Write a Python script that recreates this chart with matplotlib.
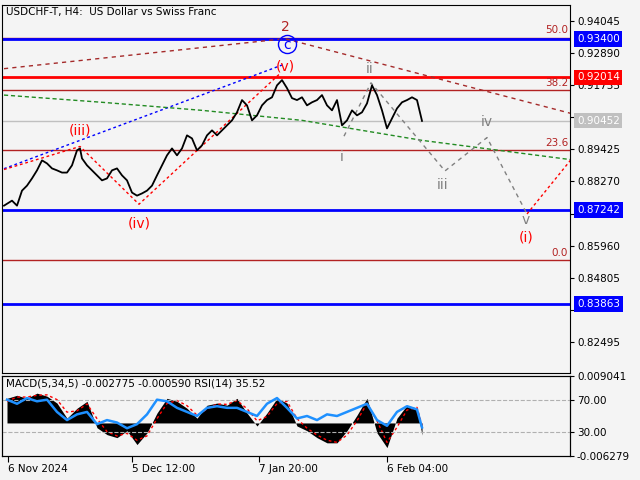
import matplotlib
matplotlib.use("Agg")
import matplotlib.pyplot as plt

BG = "#f4f4f4"
# price closes (x in bar-position units)
px = [2,10,15,20,25,30,35,40,45,50,55,60,65,70,75,78,80,85,90,95,100,105,110,115,120,125,130,135,140,145,150,155,160,165,170,175,180,185,190,195,200,205,210,215,220,225,230,235,240,245,250,255,260,265,270,275,280,285,290,295,300,305,310,315,320,325,330,335,340,345,350,355,360,365,370,375,380,385,390,395,400,405,410,415,420]
price = [0.8740,0.8758,0.8740,0.8794,0.8812,0.8838,0.8867,0.8903,0.8892,0.8874,0.8867,0.8859,0.8859,0.8885,0.8939,0.8946,0.8910,0.8885,0.8867,0.8849,0.8831,0.8838,0.8867,0.8874,0.8849,0.8831,0.8787,0.8776,0.8784,0.8794,0.8812,0.8849,0.8885,0.8921,0.8946,0.8921,0.8946,0.8993,0.8982,0.8939,0.8957,0.8993,0.9011,0.8993,0.9011,0.9029,0.9047,0.9076,0.9120,0.9101,0.9047,0.9065,0.9101,0.9120,0.9130,0.9173,0.9192,0.9163,0.9127,0.9120,0.9130,0.9101,0.9112,0.9120,0.9138,0.9101,0.9083,0.9120,0.9029,0.9047,0.9083,0.9065,0.9076,0.9108,0.9173,0.9138,0.9083,0.9018,0.9054,0.9090,0.9112,0.9120,0.9130,0.9120,0.9045]

mx = [5,15,25,35,45,55,65,75,85,95,105,115,125,135,145,155,165,175,185,195,205,215,225,235,245,255,265,275,285,295,305,315,325,335,345,355,365,375,385,395,405,415,420]
macd = [0.0057,0.0064,0.0057,0.0069,0.0062,0.0046,0.0011,0.0034,0.0050,-0.0011,-0.0027,-0.0034,-0.0018,-0.0050,-0.0023,0.0023,0.0057,0.0050,0.0034,0.0011,0.0041,0.0046,0.0041,0.0057,0.0023,-0.0007,0.0023,0.0057,0.0046,-0.0007,-0.0018,-0.0034,-0.0046,-0.0046,-0.0018,0.0018,0.0057,-0.0023,-0.0057,0.0011,0.0041,0.0034,-0.0028]
signal = [0.0050,0.0060,0.0060,0.0064,0.0065,0.0054,0.0025,0.0028,0.0044,0.0010,-0.0020,-0.0030,-0.0024,-0.0040,-0.0030,0.0010,0.0045,0.0052,0.0040,0.0018,0.0032,0.0044,0.0043,0.0052,0.0033,0.0005,0.0015,0.0045,0.0050,0.0010,-0.0012,-0.0028,-0.0040,-0.0045,-0.0028,0.0005,0.0045,0.0005,-0.0045,-0.0010,0.0030,0.0036,-0.0006]
rsi = [70,65,72,68,70,55,45,52,55,40,45,42,35,40,52,70,68,60,55,50,60,62,60,60,55,50,65,72,60,47,50,45,52,50,55,60,65,45,38,55,62,58,36]

h_levels = [0.93400, 0.92014, 0.87242, 0.83863]
h_colors = ["#0000ff", "#ff0000", "#0000ff", "#0000ff"]
fib_levels = [0.9345, 0.9155, 0.8940, 0.8545]
fib_names = ["50.0", "38.2", "23.6", "0.0"]
last_price = 0.90452
ticks = [0.94045, 0.92890, 0.91735, 0.90580, 0.89425, 0.88270, 0.87115, 0.85960, 0.84805, 0.83650, 0.82495]
hidden_ticks = [0.90580, 0.87115, 0.83650]
time_pos = [6, 130, 257, 385]
time_lbl = ["6 Nov 2024", "5 Dec 12:00", "7 Jan 20:00", "6 Feb 04:00"]

fig = plt.figure(figsize=(6.4, 4.8), dpi=100, facecolor=BG)
ax = fig.add_axes([2/640, 1-373/480, 568/640, 368/480], facecolor=BG)
ax2 = fig.add_axes([2/640, 1-456/480, 568/640, 80/480], facecolor=BG)
Y0, Y1 = 0.81376, 0.94622
for a in (ax, ax2):
    a.set_xlim(0, 568)
    for s in a.spines.values():
        s.set_color("black"); s.set_linewidth(0.8)
ax.set_ylim(Y0, Y1)

for lv, nm in zip(fib_levels, fib_names):
    ax.axhline(lv, color="#b22222", lw=1)
    ax.text(566, lv + 0.0008, nm, color="#b22222", fontsize=7.5, ha="right", va="bottom")
ax.axhline(last_price, color="#c0c0c0", lw=1)
for lv, c in zip(h_levels, h_colors):
    ax.axhline(lv, color=c, lw=2)

# trend / wave lines
ax.plot([2, 283, 570], [0.9233, 0.9341, 0.9071], ls=(0, (3, 3)), color="#a52a2a", lw=1)
ax.plot([2, 283], [0.8873, 0.9250], ls=(0, (2, 2)), color="#0000ff", lw=1)
ax.plot([2, 100, 200, 300, 420, 570], [0.9138, 0.9112, 0.9083, 0.9047, 0.8975, 0.8905], ls=(0, (3, 2)), color="#228b22", lw=1)
ax.plot([2, 78, 137, 277], [0.8870, 0.8953, 0.8745, 0.9212], ls=(0, (2, 2)), color="red", lw=1)
ax.plot([342, 369, 443, 485, 525], [0.8990, 0.9182, 0.8865, 0.8985, 0.8710], ls=(0, (3, 3)), color="gray", lw=1)
ax.plot([525, 570], [0.8710, 0.8910], ls=(0, (2, 2)), color="red", lw=1)

ax.plot(px, price, color="black", lw=1.3)

def lab(x, y, s, c, fs=10):
    ax.text(x, y, s, color=c, fontsize=fs, ha="center", va="center")
lab(283, 0.9383, "2", "#b22222")
lab(285, 0.9320, "c", "#0000ff")
ax.plot([285], [0.9322], marker="o", ms=13, mfc="none", mec="#0000ff", mew=1)
lab(283, 0.9242, "(v)", "red")
lab(78, 0.9011, "(iii)", "red")
lab(137, 0.8675, "(iv)", "red")
lab(368, 0.9231, "ii", "gray")
lab(340, 0.8914, "i", "gray")
lab(441, 0.8816, "iii", "gray")
lab(485, 0.9040, "iv", "gray")
lab(524, 0.8690, "v", "gray")
lab(524, 0.8625, "(i)", "red")
ax.text(4, 0.9437, "USDCHF-T, H4:  US Dollar vs Swiss Franc", fontsize=7.5, va="center")

ax.set_xticks([])
ax.yaxis.tick_right()
ax.set_yticks(ticks)
ax.set_yticklabels(["" if t in hidden_ticks else f"{t:.5f}" for t in ticks], fontsize=7.5)
ax.tick_params(axis="y", length=3, pad=2)
boxes = [(0.93400, "#0000ff"), (0.92014, "#ff0000"), (0.90452, "#c0c0c0"), (0.87242, "#0000ff"), (0.83863, "#0000ff")]
for lv, fc in boxes:
    ax.text(575, lv, f"{lv:.5f}", color="white", fontsize=7.5, va="center", ha="left",
            bbox=dict(boxstyle="square,pad=0.25", fc=fc, ec="none"), clip_on=False)

# indicator panel
ax2.set_ylim(-0.00765, 0.01087)
ax2.fill_between(mx, 0, macd, color="black", lw=0)
ax2.plot(mx, signal, color="red", ls=(0, (2, 2)), lw=1)
ax2.set_yticks([])
ax2.set_xticks(time_pos)
ax2.set_xticklabels(time_lbl, fontsize=7.5)
ax2.tick_params(axis="x", length=4, pad=2)
for l in ax2.get_xticklabels():
    l.set_ha("left")
r = ax2.twinx()
r.set_xlim(0, 568)
r.set_ylim(1, 99)
r.axhline(70, color="#b0b0b0", ls="--", lw=0.8)
r.axhline(30, color="#b0b0b0", ls="--", lw=0.8)
r.plot(mx, rsi, color="#1e90ff", lw=1.8)
r.set_yticks([99, 70, 30, 1])
r.set_yticklabels(["0.009041", "70.00", "30.00", "-0.006279"], fontsize=7.5)
r.tick_params(axis="y", length=3, pad=2)
ax2.text(4, 0.0092, "MACD(5,34,5) -0.002775 -0.000590 RSI(14) 35.52", fontsize=7.5, va="center")

fig.savefig("out.png", dpi=100, facecolor=BG)
